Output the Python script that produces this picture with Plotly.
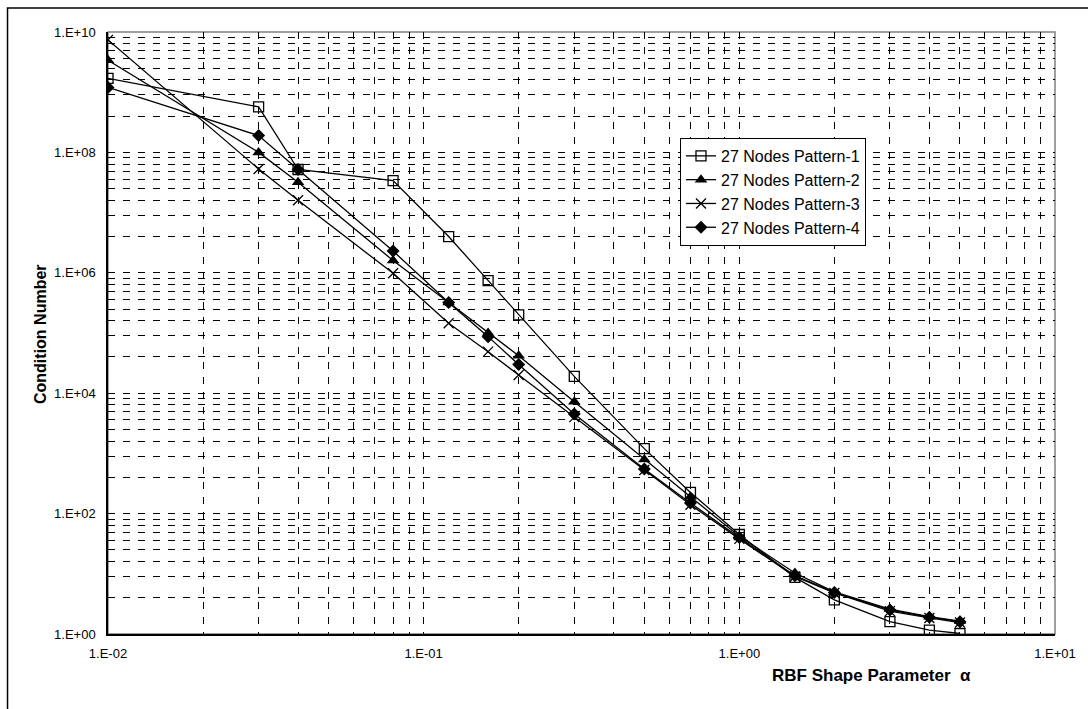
import plotly.graph_objects as go

# ---- data ----
alpha = [0.01, 0.03, 0.04, 0.08, 0.12, 0.16, 0.2, 0.3, 0.5, 0.7, 1.0, 1.5, 2.0, 3.0, 4.0, 5.0]
pattern1 = [1.7e9, 5.7e8, 5.2e7, 3.4e7, 4.0e6, 7.4e5, 2.0e5, 1.9e4, 1.2e3, 2.25e2, 45, 8.7, 3.7, 1.6, 1.16, 1.02]
pattern2 = [3.4e9, 1.0e8, 3.2e7, 1.6e6, 3.2e5, 1.0e5, 4.2e4, 7.2e3, 7.9e2, 1.9e2, 42, 10.3, 5.0, 2.6, 1.94, 1.64]
pattern3 = [7.4e9, 5.3e7, 1.6e7, 9.8e5, 1.45e5, 4.9e4, 2.0e4, 4.0e3, 5.3e2, 1.4e2, 38, 9.0, 4.8, 2.4, 1.85, 1.55]
pattern4 = [1.2e9, 1.9e8, 5.2e7, 2.3e6, 3.2e5, 8.7e4, 3.0e4, 4.5e3, 5.5e2, 1.5e2, 40, 9.3, 4.9, 2.5, 1.9, 1.6]

names = ["27 Nodes Pattern-1", "27 Nodes Pattern-2", "27 Nodes Pattern-3", "27 Nodes Pattern-4"]

x_tickvals = [0.01, 0.1, 1, 10]
x_ticktext = ["1.E-02", "1.E-01", "1.E+00", "1.E+01"]
y_tickvals = [1, 1e2, 1e4, 1e6, 1e8, 1e10]
y_ticktext = ["1.E+00", "1.E+02", "1.E+04", "1.E+06", "1.E+08", "1.E+10"]

x_minor = [m * 10.0 ** k for k in (-2, -1, 0) for m in range(2, 10)]
y_minor = [m * m * 100.0 ** k for k in range(0, 5) for m in range(2, 10)]

FONT = "Liberation Sans, Arial, sans-serif"

styles = [
    dict(symbol="square-open", size=10, color="black", line=dict(width=1.3, color="black")),
    dict(symbol="triangle-up", size=11, color="black"),
    dict(symbol="x-thin-open", size=10, color="black", line=dict(width=1.3, color="black")),
    dict(symbol="diamond", size=10, color="black"),
]

fig = go.Figure()
for i, (nm, ys) in enumerate(zip(names, [pattern1, pattern2, pattern3, pattern4])):
    fig.add_trace(go.Scatter(
        x=alpha, y=ys, name=nm, mode="lines+markers",
        line=dict(color="black", width=1.3),
        marker=styles[i],
        legendgroup=nm,
    ))

grid_dash = "7px,8px"
fig.update_layout(
    width=1088, height=709,
    margin=dict(l=108, r=33, t=32, b=75),
    paper_bgcolor="white", plot_bgcolor="white",
    font=dict(family=FONT, color="black"),
    showlegend=True,
    legend=dict(
        x=0.604, y=0.824, xanchor="left", yanchor="top",
        bgcolor="white", bordercolor="black", borderwidth=1,
        font=dict(size=16, family=FONT, color="black"),
        tracegroupgap=0,
    ),
    xaxis=dict(
        type="log", range=[-2, 1],
        tickmode="array", tickvals=x_tickvals, ticktext=x_ticktext,
        tickfont=dict(size=13, family=FONT),
        ticklabelstandoff=7,
        showgrid=True, gridcolor="black", gridwidth=1, griddash=grid_dash,
        minor=dict(tickmode="array", tickvals=x_minor, showgrid=True,
                   gridcolor="black", gridwidth=1, griddash=grid_dash),
        showline=True, linecolor="black", linewidth=1.5,
        zeroline=False, ticks="",
    ),
    yaxis=dict(
        type="log", range=[0, 10],
        tickmode="array", tickvals=y_tickvals, ticktext=y_ticktext,
        tickfont=dict(size=13, family=FONT),
        ticklabelstandoff=8,
        showgrid=True, gridcolor="black", gridwidth=1, griddash=grid_dash,
        minor=dict(tickmode="array", tickvals=y_minor, showgrid=True,
                   gridcolor="black", gridwidth=1, griddash=grid_dash),
        showline=True, linecolor="black", linewidth=1.5,
        zeroline=False, ticks="",
    ),
    shapes=[
        # plot area border (top/right appear gray)
        dict(type="rect", xref="paper", yref="paper", x0=0, x1=1, y0=0, y1=1,
             line=dict(color="#808080", width=1.5), layer="below"),
        # outer chart frame, partially visible
        dict(type="rect", xref="paper", yref="paper",
             x0=-0.1061, x1=1.2, y0=-0.3, y1=1.0399,
             line=dict(color="black", width=1.5)),
    ],
    annotations=[
        dict(text="<b>Condition Number</b>", xref="paper", yref="paper",
             x=(40 - 108) / 947, y=(634 - 334) / 602, xanchor="center", yanchor="middle",
             textangle=-90, showarrow=False, font=dict(size=16, family=FONT)),
        dict(text="<b>RBF Shape Parameter  α</b>", xref="paper", yref="paper",
             x=(871 - 108) / 947, y=(634 - 676) / 602, xanchor="center", yanchor="middle",
             showarrow=False, font=dict(size=17, family=FONT)),
    ],
)

fig.write_html("out.html")
